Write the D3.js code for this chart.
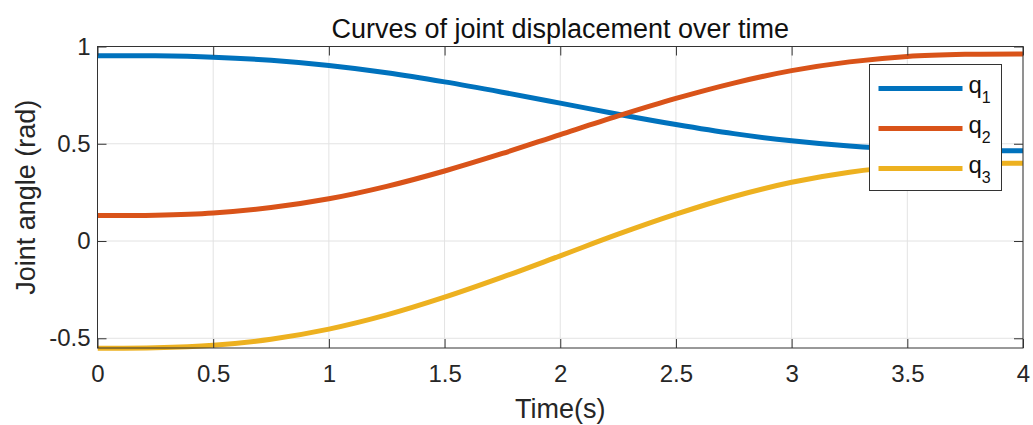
<!DOCTYPE html>
<html>
<head>
<meta charset="utf-8">
<script src="https://cdn.jsdelivr.net/npm/d3@7"></script>
<style>
  body { margin: 0; background: #fff; }
  svg { font-family: "Liberation Sans", Arial, sans-serif; }
</style>
</head>
<body>
<div id="chart"></div>
<script>
// Time samples (s)
const times = [0, 0.25, 0.5, 0.75, 1, 1.25, 1.5, 1.75, 2, 2.25, 2.5, 2.75, 3, 3.25, 3.5, 3.75, 4];

// Joint angles (rad)
const q1 = [0.953, 0.952, 0.945, 0.929, 0.902, 0.865, 0.818, 0.765, 0.709, 0.652, 0.599, 0.552, 0.515, 0.488, 0.472, 0.465, 0.464];
const q2 = [0.131, 0.133, 0.144, 0.172, 0.217, 0.281, 0.360, 0.450, 0.547, 0.643, 0.733, 0.812, 0.876, 0.921, 0.949, 0.960, 0.962];
const q3 = [-0.551, -0.549, -0.536, -0.505, -0.453, -0.380, -0.289, -0.186, -0.076, 0.035, 0.138, 0.229, 0.302, 0.354, 0.385, 0.398, 0.400];

const seriesNames = ["1", "2", "3"];
const seriesColors = ["#0072BD", "#D95319", "#EDB120"];

const xTicks = [0, 0.5, 1, 1.5, 2, 2.5, 3, 3.5, 4];
const yTicks = [-0.5, 0, 0.5, 1];

const series = [q1, q2, q3].map((vals, i) => ({
    name: seriesNames[i],
    color: seriesColors[i],
    values: vals.map((v, j) => ({t: times[j], v: v}))
}));

// Dimensions
const W = 1033, H = 425;
const margin = {top: 46.5, right: 10, bottom: 77, left: 97.5};
const width = W - margin.left - margin.right;
const height = H - margin.top - margin.bottom;

const svg = d3.select("#chart").append("svg")
    .attr("width", W)
    .attr("height", H);

const g = svg.append("g")
    .attr("transform", `translate(${margin.left},${margin.top})`);

const x = d3.scaleLinear().domain([0, 4]).range([0, width]);
const y = d3.scaleLinear().domain([-0.55, 1]).range([height, 0]);

// Grid
g.append("g")
    .selectAll("line")
    .data(xTicks)
    .enter().append("line")
    .attr("x1", d => x(d)).attr("x2", d => x(d))
    .attr("y1", 0).attr("y2", height)
    .attr("stroke", "#e3e3e3");

g.append("g")
    .selectAll("line")
    .data(yTicks)
    .enter().append("line")
    .attr("x1", 0).attr("x2", width)
    .attr("y1", d => y(d)).attr("y2", d => y(d))
    .attr("stroke", "#e3e3e3");

// Curves
const line = d3.line()
    .x(d => x(d.t))
    .y(d => y(d.v))
    .curve(d3.curveCatmullRom);

g.append("defs").append("clipPath")
    .attr("id", "clip")
    .append("rect")
    .attr("x", 0).attr("y", -3)
    .attr("width", width).attr("height", height + 6);

g.append("g")
    .attr("clip-path", "url(#clip)")
    .selectAll("path")
    .data(series)
    .enter().append("path")
    .attr("fill", "none")
    .attr("stroke", d => d.color)
    .attr("stroke-width", 5)
    .attr("d", d => line(d.values));

// Axes (MATLAB style: inward ticks, box)
const tickLen = 9;
const axisColor = "#333";
const fmt = d => String(d);

const xAxis = g.append("g")
    .attr("transform", `translate(0,${height})`)
    .call(d3.axisBottom(x).tickValues(xTicks).tickFormat(fmt).tickSizeInner(-tickLen).tickSizeOuter(0).tickPadding(17));

const xAxisTop = g.append("g")
    .call(d3.axisTop(x).tickValues(xTicks).tickFormat("").tickSizeInner(-tickLen).tickSizeOuter(0));

const yAxis = g.append("g")
    .call(d3.axisLeft(y).tickValues(yTicks).tickFormat(fmt).tickSizeInner(-tickLen).tickSizeOuter(0).tickPadding(7));

const yAxisRight = g.append("g")
    .attr("transform", `translate(${width},0)`)
    .call(d3.axisRight(y).tickValues(yTicks).tickFormat("").tickSizeInner(-tickLen).tickSizeOuter(0));

[xAxis, xAxisTop, yAxis, yAxisRight].forEach(a => {
    a.select(".domain").remove();
    a.selectAll("line").attr("stroke", axisColor);
    a.selectAll("text")
        .attr("fill", "#262626")
        .style("font-size", "24px")
        .style("font-family", "'Liberation Sans', Arial, sans-serif");
});

// Box
g.append("rect")
    .attr("x", 0).attr("y", 0)
    .attr("width", width).attr("height", height)
    .attr("fill", "none")
    .attr("stroke", axisColor)
    .attr("stroke-width", 1);

// Title
svg.append("text")
    .attr("x", margin.left + width / 2)
    .attr("y", 38)
    .attr("text-anchor", "middle")
    .attr("fill", "#111")
    .style("font-size", "27px")
    .text("Curves of joint displacement over time");

// Axis labels
svg.append("text")
    .attr("x", margin.left + width / 2)
    .attr("y", 418)
    .attr("text-anchor", "middle")
    .attr("fill", "#262626")
    .style("font-size", "27px")
    .text("Time(s)");

svg.append("text")
    .attr("transform", `translate(35,${margin.top + height / 2}) rotate(-90)`)
    .attr("text-anchor", "middle")
    .attr("fill", "#262626")
    .style("font-size", "27px")
    .text("Joint angle (rad)");

// Legend
const legend = svg.append("g")
    .attr("transform", "translate(869.5,64.5)");

legend.append("rect")
    .attr("width", 132)
    .attr("height", 126)
    .attr("fill", "#fff")
    .attr("stroke", axisColor);

const items = legend.selectAll(".item")
    .data(series)
    .enter().append("g")
    .attr("class", "item")
    .attr("transform", (d, i) => `translate(0,${24 + i * 40})`);

items.append("line")
    .attr("x1", 9).attr("x2", 93)
    .attr("y1", 0).attr("y2", 0)
    .attr("stroke", d => d.color)
    .attr("stroke-width", 5);

const lbl = items.append("text")
    .attr("x", 99)
    .attr("y", 4)
    .attr("fill", "#111")
    .style("font-size", "24px");

lbl.append("tspan").text("q");
lbl.append("tspan")
    .attr("dy", 10)
    .style("font-size", "16px")
    .text(d => d.name);
</script>
</body>
</html>
